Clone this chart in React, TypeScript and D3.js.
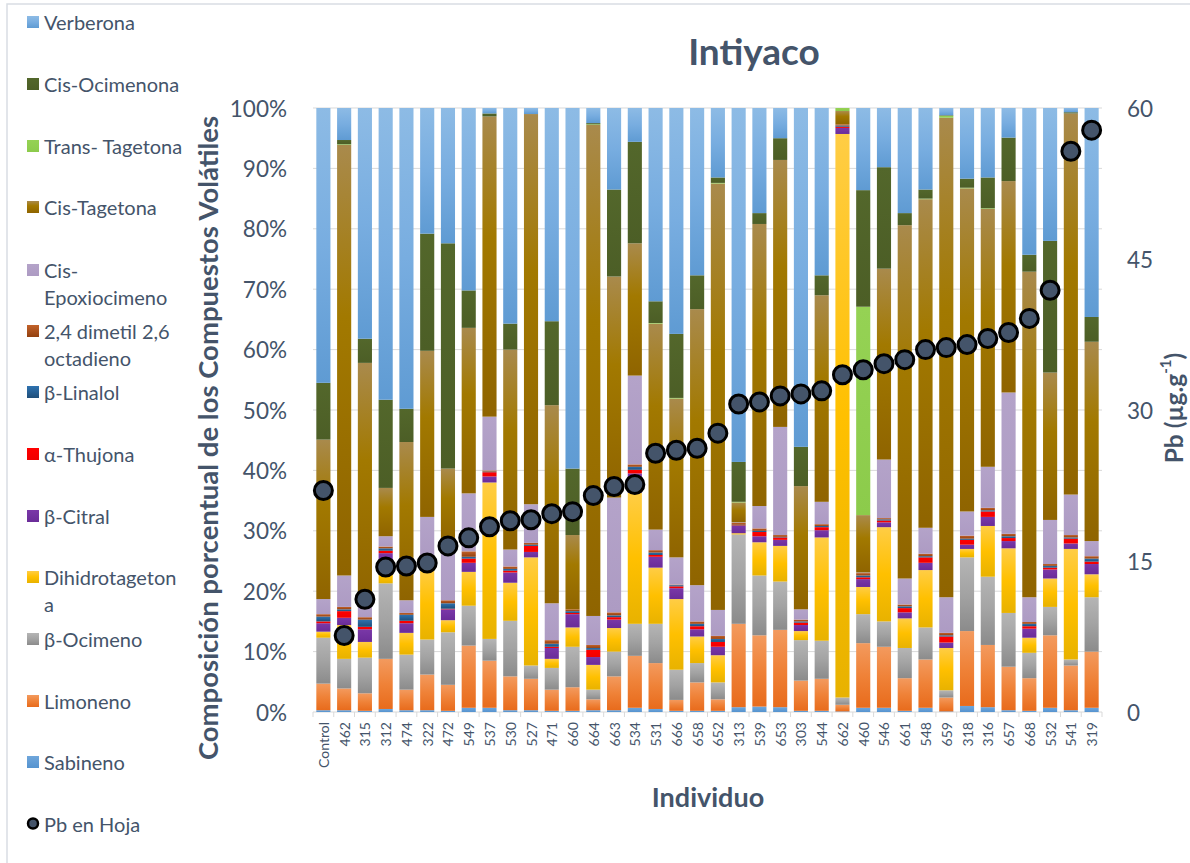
import React from "react";
import * as d3 from "d3";

// Individuals (x categories)
const categories = [
  "Control", "462", "315", "312", "474", "322", "472", "549", "537", "530",
  "527", "471", "660", "664", "663", "534", "531", "666", "658", "652",
  "313", "539", "653", "303", "544", "662", "460", "546", "661", "548",
  "659", "318", "316", "657", "668", "532", "541", "319",
];

// Volatile compounds, % of total per individual (bottom of stack first)
const sabineno = [0.3, 0.3, 0.2, 0.5, 0.3, 0.3, 0.2, 0.7, 0.7, 0.3, 0.3, 0.2, 0.2, 0.3, 0.3, 0.7, 0.5, 0.2, 0.2, 0.2, 0.8, 0.9, 0.8, 0.2, 0.2, 0.1, 0.7, 0.7, 0.2, 0.7, 0.1, 1.0, 0.8, 0.3, 0.2, 0.7, 0.3, 0.7];
const limoneno = [4.4, 3.6, 2.9, 8.3, 3.4, 5.9, 4.3, 10.3, 7.8, 5.6, 5.2, 3.5, 3.9, 1.8, 5.6, 8.6, 7.6, 1.8, 4.7, 1.9, 13.8, 11.8, 12.8, 5.0, 5.3, 1.1, 10.7, 10.1, 5.4, 8.0, 2.3, 12.4, 10.3, 7.2, 5.4, 12.0, 7.4, 9.3];
const bOcimeno = [7.6, 4.9, 5.9, 12.5, 5.8, 5.8, 8.7, 6.6, 3.6, 9.2, 2.2, 3.6, 6.7, 1.6, 4.1, 5.3, 6.5, 5.0, 3.2, 2.8, 14.8, 9.9, 8.0, 6.7, 6.3, 1.2, 4.8, 4.2, 5.0, 5.3, 1.2, 12.2, 11.3, 8.9, 4.2, 4.7, 1.0, 9.0];
const dihidrotagetona = [1.0, 5.6, 2.6, 2.2, 3.6, 11.8, 2.0, 5.6, 25.9, 6.3, 17.9, 1.5, 3.2, 4.1, 3.9, 21.7, 9.3, 11.7, 4.4, 4.5, 0.2, 5.5, 5.9, 1.5, 17.1, 93.3, 4.5, 15.6, 4.9, 9.5, 7.0, 1.4, 8.4, 10.7, 2.5, 4.7, 18.3, 3.8];
const bCitral = [1.4, 1.2, 2.1, 2.8, 1.6, 0.8, 1.8, 1.5, 1.0, 1.7, 0.9, 1.8, 2.2, 1.3, 1.4, 3.2, 1.8, 1.8, 1.2, 1.4, 1.2, 1.0, 1.0, 1.0, 1.2, 1.0, 1.3, 0.8, 1.0, 1.2, 0.9, 0.7, 1.5, 1.2, 1.5, 1.5, 0.9, 1.7];
const aThujona = [0.3, 1.1, 0.4, 0.4, 0.4, 0.3, 0.1, 0.7, 0.7, 0.3, 1.0, 0.2, 0.2, 1.2, 0.4, 0.6, 0.3, 0.3, 0.5, 0.8, 0.1, 0.7, 0.4, 0.4, 0.5, 0.2, 0.3, 0.3, 0.7, 0.9, 1.0, 0.8, 0.9, 0.5, 0.4, 0.3, 0.8, 0.4];
const bLinalol = [0.8, 0.3, 1.2, 0.4, 1.0, 0.4, 0.9, 0.3, 0.1, 0.3, 0.2, 0.5, 0.3, 0.3, 0.3, 0.5, 0.4, 0.2, 0.4, 0.5, 0.1, 0.2, 0.1, 0.2, 0.2, 0.2, 0.3, 0.2, 0.3, 0.2, 0.2, 0.2, 0.2, 0.3, 0.4, 0.3, 0.2, 0.5];
const dimetilOctadieno = [0.4, 0.4, 0.4, 0.3, 0.3, 0.4, 0.5, 0.9, 0.2, 0.4, 0.3, 0.6, 0.3, 0.5, 0.5, 0.4, 0.4, 0.1, 0.4, 0.5, 0.3, 0.4, 0.3, 0.3, 0.3, 0.2, 0.4, 0.2, 0.3, 0.4, 0.4, 0.5, 0.4, 0.4, 0.3, 0.3, 0.4, 0.4];
const cisEpoxiocimeno = [2.5, 5.2, 1.8, 1.7, 2.1, 6.6, 9.5, 9.6, 8.9, 2.8, 6.4, 6.1, 0, 4.8, 19.0, 14.7, 3.4, 4.5, 6.0, 4.3, 0.1, 3.7, 17.9, 1.7, 3.7, 0, 0.1, 9.7, 4.3, 4.3, 5.9, 4.0, 6.8, 23.4, 4.1, 7.3, 6.7, 2.5];
const cisTagetona = [26.4, 71.3, 40.3, 8.0, 26.2, 27.5, 12.3, 27.4, 49.7, 33.1, 64.6, 32.8, 12.3, 81.3, 36.6, 21.9, 34.1, 26.3, 45.7, 70.6, 3.3, 46.7, 44.2, 20.4, 34.2, 2.2, 9.5, 31.6, 58.5, 54.4, 79.4, 53.5, 42.7, 35.0, 53.9, 24.4, 63.1, 33.0];
const transTagetona = [0, 0.1, 0, 0, 0, 0, 0, 0, 0, 0, 0, 0, 0, 0.1, 0, 0, 0.1, 0.1, 0, 0.1, 0.1, 0, 0, 0, 0, 0.5, 34.5, 0, 0, 0.1, 0.3, 0.1, 0.1, 0, 0, 0, 0, 0];
const cisOcimenona = [9.4, 0.7, 4.0, 14.6, 5.5, 19.4, 37.3, 6.2, 0.5, 4.3, 0, 13.9, 11.0, 0.2, 14.4, 16.8, 3.6, 10.6, 5.6, 0.9, 6.6, 1.8, 3.6, 6.5, 3.3, 0, 19.3, 16.8, 2.0, 1.5, 0.1, 1.5, 5.1, 7.2, 2.8, 21.8, 0.2, 4.1];
const verberona = [45.5, 5.3, 38.2, 48.3, 49.8, 20.8, 22.4, 30.2, 0.9, 35.7, 1.0, 35.3, 59.7, 2.5, 13.5, 5.6, 32.0, 37.4, 27.7, 11.5, 58.6, 17.4, 5.0, 56.1, 27.7, 0, 13.6, 9.8, 17.4, 13.5, 1.2, 11.7, 11.5, 4.9, 24.3, 22.0, 0.7, 34.6];

// Lead in leaf, µg·g-1 (right axis)
const pbHoja = [22.0, 7.6, 11.2, 14.4, 14.5, 14.8, 16.5, 17.3, 18.4, 19.0, 19.1, 19.7, 19.9, 21.5, 22.4, 22.6, 25.7, 26.0, 26.2, 27.7, 30.6, 30.8, 31.4, 31.6, 31.9, 33.5, 34.0, 34.6, 35.0, 36.0, 36.2, 36.5, 37.1, 37.7, 39.1, 41.9, 55.7, 57.8];

const percentTicks = [0, 0.1, 0.2, 0.3, 0.4, 0.5, 0.6, 0.7, 0.8, 0.9, 1];
const pbTicks = [0, 15, 30, 45, 60];

type Series = { key: string; label: string[]; values: number[]; stops: [number, string][] };

const series: Series[] = [
  { key: "sab", label: ["Sabineno"], values: sabineno, stops: [[0, "#6fa6db"], [1, "#5593cf"]] },
  { key: "lim", label: ["Limoneno"], values: limoneno, stops: [[0, "#f39a5e"], [0.5, "#ef8238"], [1, "#e86b1c"]] },
  { key: "oci", label: ["β-Ocimeno"], values: bOcimeno, stops: [[0, "#b5b5b5"], [0.5, "#a3a3a3"], [1, "#8b8b8b"]] },
  { key: "dih", label: ["Dihidrotageton", "a"], values: dihidrotagetona, stops: [[0, "#ffcd45"], [0.5, "#ffc000"], [1, "#e8b200"]] },
  { key: "cit", label: ["β-Citral"], values: bCitral, stops: [[0, "#7a38a8"], [1, "#6a2c98"]] },
  { key: "thu", label: ["α-Thujona"], values: aThujona, stops: [[0, "#ff0000"], [1, "#f00000"]] },
  { key: "lin", label: ["β-Linalol"], values: bLinalol, stops: [[0, "#2e72b0"], [1, "#1f4e79"]] },
  { key: "dim", label: ["2,4 dimetil 2,6", "octadieno"], values: dimetilOctadieno, stops: [[0, "#c2622a"], [1, "#93400f"]] },
  { key: "epo", label: ["Cis-", "Epoxiocimeno"], values: cisEpoxiocimeno, stops: [[0, "#b4a3c9"], [1, "#ad9bc3"]] },
  { key: "ctag", label: ["Cis-Tagetona"], values: cisTagetona, stops: [[0, "#a98a4c"], [0.4, "#a27900"], [1, "#8f6400"]] },
  { key: "ttag", label: ["Trans- Tagetona"], values: transTagetona, stops: [[0, "#95d254"], [1, "#8ccb4b"]] },
  { key: "ocim", label: ["Cis-Ocimenona"], values: cisOcimenona, stops: [[0, "#53672b"], [1, "#4c5e26"]] },
  { key: "verb", label: ["Verberona"], values: verberona, stops: [[0, "#8dbbe5"], [0.5, "#78ade0"], [1, "#5f9bd3"]] },
];

const FONT = "Lato, Carlito, Calibri, 'Open Sans', sans-serif";
const TEXT = "#44546a";
const GRID = "#d9d9d9";

export default function App() {
  const W = 1190;
  const H = 863;
  const plot = { left: 313, right: 1102, top: 108, bottom: 712 };

  const x = d3
    .scaleBand<string>()
    .domain(categories)
    .range([plot.left, plot.right])
    .paddingInner(0.32)
    .paddingOuter(0.16);
  const y = d3.scaleLinear().domain([0, 1]).range([plot.bottom, plot.top]);
  const yPb = d3.scaleLinear().domain([0, 60]).range([plot.bottom, plot.top]);

  const rows = categories.map((c, i) => {
    const r: Record<string, any> = { cat: c };
    series.forEach((s) => (r[s.key] = s.values[i]));
    return r;
  });
  const stacked = d3
    .stack<Record<string, any>>()
    .keys(series.map((s) => s.key))
    .offset(d3.stackOffsetExpand)(rows);

  const step = x.step();
  const gap = (step - x.bandwidth()) / 2;
  const boundaries = categories
    .map((c) => (x(c) as number) - gap)
    .concat([(x(categories[categories.length - 1]) as number) + x.bandwidth() + gap]);

  // legend entries, top to bottom
  const legendY = [22, 84, 146, 207, 270, 331, 392, 454, 516, 577, 639, 701, 762];
  const legendSeries = series.slice().reverse();
  const pctFmt = d3.format(".0%");

  return (
    <svg
      width={W}
      height={H}
      viewBox={`0 0 ${W} ${H}`}
      style={{ position: "absolute", left: 0, top: 0, background: "#fff" }}
      fontFamily={FONT}
    >
      <defs>
        {series.map((s) => (
          <linearGradient key={s.key} id={`g-${s.key}`} x1="0" y1="0" x2="0" y2="1">
            {s.stops.map(([o, c], i) => (
              <stop key={i} offset={o} stopColor={c} />
            ))}
          </linearGradient>
        ))}
      </defs>

      {/* chart area frame */}
      <rect x={7} y={4} width={1300} height={1000} fill="none" stroke="#d9dde3" strokeWidth={1.5} />

      {/* title */}
      <text x={754} y={65} textAnchor="middle" fontSize={37} fontWeight={700} fill={TEXT}>
        Intiyaco
      </text>

      {/* gridlines */}
      {percentTicks.map((t) => (
        <line key={t} x1={plot.left} x2={plot.right} y1={y(t)} y2={y(t)} stroke={GRID} strokeWidth={1} />
      ))}
      {/* category tick marks */}
      {boundaries.map((bx, i) => (
        <line key={i} x1={bx} x2={bx} y1={plot.bottom} y2={plot.bottom + 5} stroke={GRID} strokeWidth={1} />
      ))}

      {/* stacked bars */}
      {stacked.map((layer, li) => (
        <g key={series[li].key} fill={`url(#g-${series[li].key})`}>
          {layer.map((d, i) => {
            const y0 = y(d[0]);
            const y1 = y(d[1]);
            const h = y0 - y1;
            if (h <= 0) return null;
            return <rect key={i} x={x(categories[i])} y={y1} width={x.bandwidth()} height={h} />;
          })}
        </g>
      ))}

      {/* Pb markers */}
      {pbHoja.map((v, i) => (
        <circle
          key={i}
          cx={(x(categories[i]) as number) + x.bandwidth() / 2}
          cy={yPb(v)}
          r={9}
          fill="#44546a"
          stroke="#000"
          strokeWidth={3}
        />
      ))}

      {/* left axis labels */}
      {percentTicks.map((t) => (
        <text key={t} x={287} y={y(t)} textAnchor="end" dominantBaseline="central" fontSize={22.5} fill={TEXT}>
          {pctFmt(t)}
        </text>
      ))}
      {/* right axis labels */}
      {pbTicks.map((t) => (
        <text key={t} x={1127} y={yPb(t)} textAnchor="start" dominantBaseline="central" fontSize={22.5} fill={TEXT}>
          {t}
        </text>
      ))}

      {/* category labels */}
      {categories.map((c) => {
        const cx = (x(c) as number) + x.bandwidth() / 2;
        return (
          <text
            key={c}
            transform={`translate(${cx},${plot.bottom + 10}) rotate(-90)`}
            textAnchor="end"
            dominantBaseline="central"
            fontSize={14}
            fill={TEXT}
          >
            {c}
          </text>
        );
      })}

      {/* axis titles */}
      <text
        transform={`translate(207,${(plot.top + plot.bottom) / 2 + 28}) rotate(-90)`}
        textAnchor="middle"
        dominantBaseline="central"
        fontSize={27.5}
        fontWeight={700}
        fill={TEXT}
      >
        Composición porcentual de los Compuestos Volátiles
      </text>
      <text
        transform={`translate(1173,408) rotate(-90)`}
        textAnchor="middle"
        dominantBaseline="central"
        fontSize={24.5}
        fontWeight={700}
        fill={TEXT}
      >
        Pb (µg.g<tspan dy={-8} fontSize={15}>-1</tspan>
        <tspan dy={8}>)</tspan>
      </text>
      <text x={708} y={807} textAnchor="middle" fontSize={27} fontWeight={700} fill={TEXT}>
        Individuo
      </text>

      {/* legend */}
      {legendSeries.map((s, i) => (
        <g key={s.key}>
          <rect x={27} y={legendY[i] - 6} width={12} height={12} fill={`url(#g-${s.key})`} />
          {s.label.map((line, k) => (
            <text key={k} x={44} y={legendY[i] + k * 26.5} dominantBaseline="central" fontSize={20} fill={TEXT}>
              {line}
            </text>
          ))}
        </g>
      ))}
      <circle cx={33} cy={823.5} r={5} fill="#44546a" stroke="#000" strokeWidth={2.5} />
      <text x={44} y={823.5} dominantBaseline="central" fontSize={20} fill={TEXT}>
        Pb en Hoja
      </text>
    </svg>
  );
}
